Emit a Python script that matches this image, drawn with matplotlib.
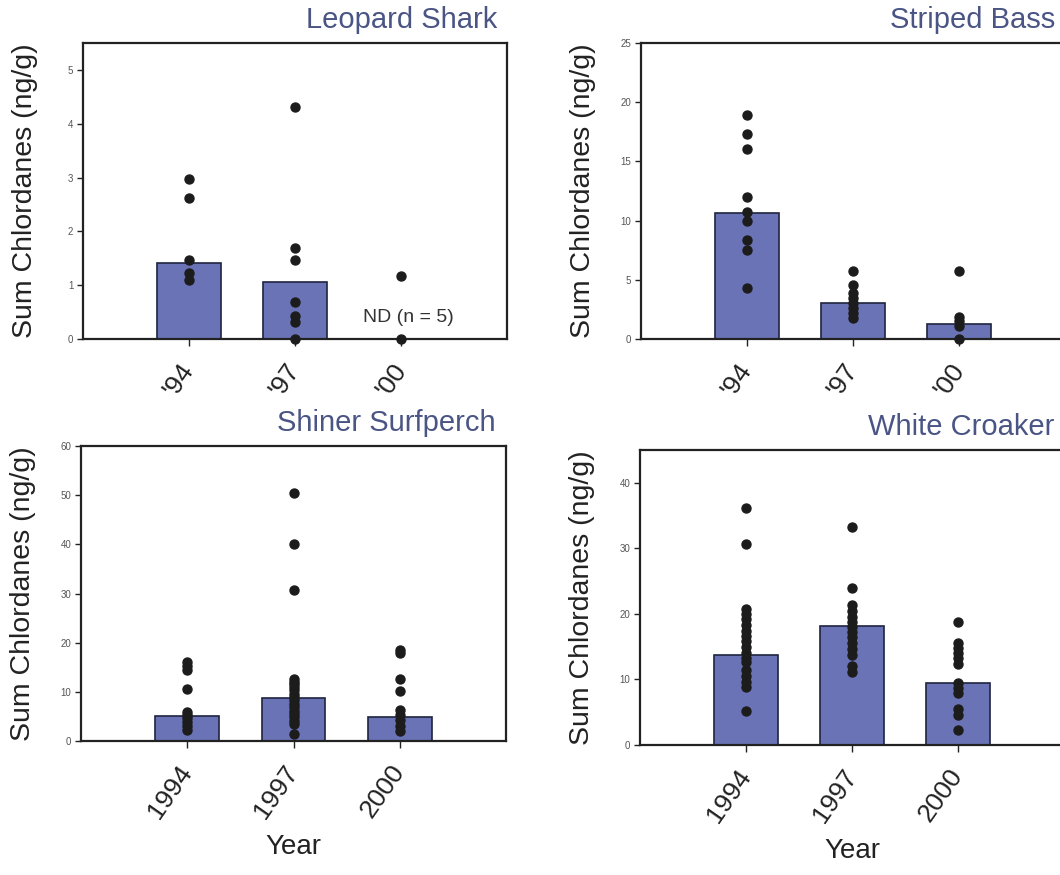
import matplotlib
matplotlib.use("Agg")
import matplotlib.pyplot as plt

plt.rcParams['font.family'] = ['Liberation Sans', 'DejaVu Sans']

W, H = 1060, 875

# ---- data ----
short_years = ["'94", "'97", "'00"]
long_years = ["1994", "1997", "2000"]

leopard_bars = [1.41, 1.06, None]
leopard_pts = [
    [2.98, 2.62, 1.46, 1.22, 1.10],
    [4.32, 1.69, 1.47, 0.68, 0.42, 0.32, 0.0],
    [1.17, 0.0],
]

bass_bars = [10.64, 3.04, 1.27]
bass_pts = [
    [18.9, 17.3, 16.05, 11.96, 10.7, 10.0, 8.4, 7.5, 4.3],
    [5.77, 4.56, 3.86, 3.43, 3.0, 2.6, 2.2, 1.8],
    [5.77, 1.9, 1.5, 1.1, 0.0],
]

surfperch_bars = [5.0, 8.8, 4.8]
surfperch_pts = [
    [16.1, 15.3, 14.5, 10.5, 6.0, 5.3, 4.6, 3.9, 3.0, 2.2],
    [50.5, 40.1, 30.8, 12.7, 12.1, 11.5, 10.9, 10.3, 9.6, 9.0, 8.3,
     7.6, 6.9, 6.2, 5.5, 4.8, 4.1, 3.4, 1.4],
    [18.5, 17.9, 12.7, 10.2, 6.4, 5.3, 4.3, 3.0, 2.0],
]

croaker_bars = [13.7, 18.2, 9.4]
croaker_pts = [
    [36.1, 30.6, 20.8, 20.0, 19.2, 18.3, 17.4, 16.6, 15.8, 14.9, 14.1,
     13.3, 12.6, 11.5, 10.5, 9.6, 8.8, 5.2],
    [33.3, 23.9, 21.3, 20.5, 19.6, 18.8, 18.0, 17.2, 16.4, 15.5, 14.6,
     13.8, 12.0, 11.2],
    [18.7, 15.6, 14.8, 14.0, 13.2, 12.3, 9.4, 8.7, 8.0, 5.5, 4.6, 2.3],
]

panels = [
    # title, bars, points, labels, ylim, yticks, box (left, top, right, bottom px)
    ("Leopard Shark", leopard_bars, leopard_pts, short_years, 5.5, range(0, 6, 1), (83, 43, 507, 339)),
    ("Striped Bass", bass_bars, bass_pts, short_years, 25, range(0, 26, 5), (641, 43, 1065, 339)),
    ("Shiner Surfperch", surfperch_bars, surfperch_pts, long_years, 60, range(0, 61, 10), (81, 446, 506, 741)),
    ("White Croaker", croaker_bars, croaker_pts, long_years, 45, range(0, 41, 10), (640, 450, 1064, 745)),
]

bar_color = '#6b73b7'
edge_color = '#1f2440'
title_color = '#4a5585'

fig = plt.figure(figsize=(W / 100, H / 100), dpi=100)

for i, (title, bars, pts, labels, ymax, yticks, box) in enumerate(panels):
    l, t, r, b = box
    ax = fig.add_axes([l / W, 1 - b / H, (r - l) / W, (b - t) / H])
    xs = [1, 2, 3]
    for x, v in zip(xs, bars):
        if v is not None:
            ax.bar(x, v, width=0.6, color=bar_color, edgecolor=edge_color, linewidth=1.2, zorder=2)
    for x, vals in zip(xs, pts):
        ax.scatter([x] * len(vals), vals, s=42, color='#1c1c1c', zorder=3, clip_on=False)
    ax.set_xlim(0, 4)
    ax.set_ylim(0, ymax)
    ax.set_yticks(list(yticks))
    ax.set_xticks(xs)
    ax.set_xticklabels(labels, rotation=55, ha='right', va='center', rotation_mode='anchor',
                       fontsize=19, color='#222222')
    ax.tick_params(axis='y', labelsize=7, colors='#222222', labelcolor='#555555', length=4, width=1, direction='out', pad=3)
    ax.tick_params(axis='x', length=5, width=1, direction='out', pad=14, colors='#222222')
    for s in ax.spines.values():
        s.set_linewidth(1.6)
        s.set_color('#222222')
    ax.set_ylabel("Sum Chlordanes (ng/g)", fontsize=20.5, color='#222222')
    ax.yaxis.set_label_coords(-45 / (r - l), 0.5)
    ax.text(1 - 10 / (r - l), 1 + 15 / (b - t), title, transform=ax.transAxes,
            ha='right', va='baseline', fontsize=21, color=title_color)
    if i >= 2:
        ax.set_xlabel("Year", fontsize=20, color='#222222', labelpad=8)
    if title == "Leopard Shark":
        ax.text(3.07, 0.4, "ND (n = 5)", ha='center', va='center', fontsize=14, color='#333333')

fig.savefig("out.png", dpi=100)
